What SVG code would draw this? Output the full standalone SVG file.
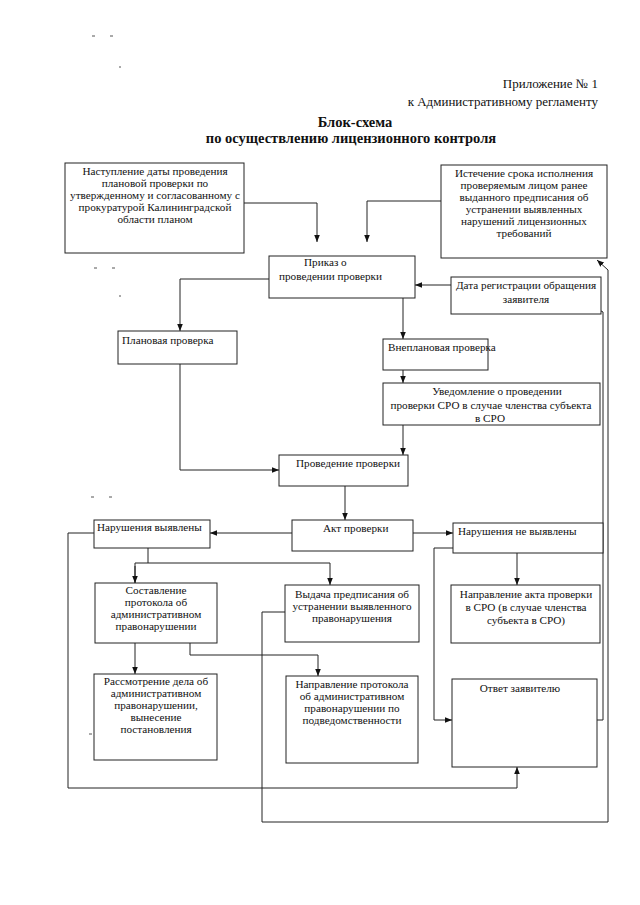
<svg xmlns="http://www.w3.org/2000/svg" width="640" height="905" viewBox="0 0 640 905">
<defs>
<style>
text{font-family:"Liberation Serif","Times New Roman",serif;fill:#111;}
.h{font-size:13px;}
.t{font-size:14.5px;font-weight:bold;}
.n{font-size:11.2px;}
.c{text-anchor:middle;}
.box{fill:#fff;stroke:#222;stroke-width:1;}
.ln{fill:none;stroke:#222;stroke-width:1;}
.mk{stroke:#555;stroke-width:1;}
</style>
<marker id="ah" viewBox="0 0 8 8" refX="8" refY="4" markerWidth="7" markerHeight="7" markerUnits="userSpaceOnUse" orient="auto">
<path d="M0,0.8 L8,4 L0,7.2 z" fill="#111"/>
</marker>
</defs>
<rect width="640" height="905" fill="#fff"/>
<g id="scan-marks">
<line class="mk" x1="92" y1="36" x2="95" y2="36"/><line class="mk" x1="110" y1="36" x2="113" y2="36"/>
<line class="mk" x1="119" y1="67" x2="121" y2="67"/>
<line class="mk" x1="94" y1="268" x2="97" y2="268"/><line class="mk" x1="112" y1="268" x2="115" y2="268"/>
<line class="mk" x1="119" y1="296" x2="121" y2="296"/>
<line class="mk" x1="91" y1="497" x2="94" y2="497"/><line class="mk" x1="109" y1="497" x2="112" y2="497"/>
<line class="mk" x1="89" y1="734" x2="92" y2="734"/><line class="mk" x1="100" y1="734" x2="102" y2="734"/>
</g>
<g id="header">
<text class="h" x="598" y="88" text-anchor="end">Приложение № 1</text>
<text class="h" x="598" y="106" text-anchor="end">к Административному регламенту</text>
<text class="t c" x="355" y="127">Блок-схема</text>
<text class="t c" x="351" y="143">по осуществлению лицензионного контроля</text>
</g>
<g id="connectors">
<polyline class="ln" points="244,203 317,203 317,242" marker-end="url(#ah)"/>
<polyline class="ln" points="441,201 367,201 367,242" marker-end="url(#ah)"/>
<line class="ln" x1="451" y1="285" x2="415" y2="285" marker-end="url(#ah)"/>
<polyline class="ln" points="269,279 180,279 180,331" marker-end="url(#ah)"/>
<line class="ln" x1="403" y1="298" x2="403" y2="339" marker-end="url(#ah)"/>
<line class="ln" x1="403" y1="370" x2="403" y2="383" marker-end="url(#ah)"/>
<line class="ln" x1="403" y1="425" x2="403" y2="455" marker-end="url(#ah)"/>
<polyline class="ln" points="180,364 180,470 279,470" marker-end="url(#ah)"/>
<line class="ln" x1="345" y1="486" x2="345" y2="520" marker-end="url(#ah)"/>
<line class="ln" x1="292" y1="533" x2="210" y2="533" marker-end="url(#ah)"/>
<line class="ln" x1="413" y1="533" x2="453" y2="533" marker-end="url(#ah)"/>
<polyline class="ln" points="148,548 148,563"/>
<polyline class="ln" points="135,583 135,563 330,563 330,585" marker-end="url(#ah)"/>
<line class="ln" x1="135" y1="566" x2="135" y2="583" marker-end="url(#ah)"/>
<line class="ln" x1="135" y1="643" x2="135" y2="674" marker-end="url(#ah)"/>
<polyline class="ln" points="190,643 190,655 318,655 318,676" marker-end="url(#ah)"/>
<polyline class="ln" points="285,612 262,612 262,822 608,822 608,270 597,260" marker-end="url(#ah)"/>
<polyline class="ln" points="94,533 68,533 68,788 517,788 517,767" marker-end="url(#ah)"/>
<line class="ln" x1="517" y1="553" x2="517" y2="585" marker-end="url(#ah)"/>
<polyline class="ln" points="453,548 434,548 434,720 452,720" marker-end="url(#ah)"/>
<polyline class="ln" points="597,720 603,720 603,312 590,305" marker-end="url(#ah)"/>
</g>
<g id="n-nastuplenie">
<rect class="box" x="65" y="163" width="179" height="90"/>
<text class="n c" x="155" y="175">Наступление даты проведения</text>
<text class="n c" x="155" y="187">плановой проверки  по</text>
<text class="n c" x="155" y="199">утвержденному и согласованному с</text>
<text class="n c" x="155" y="211">прокуратурой  Калининградской</text>
<text class="n c" x="155" y="223">области планом</text>
</g>
<g id="n-istechenie">
<rect class="box" x="441" y="165" width="166" height="93"/>
<text class="n c" x="524" y="177">Истечение срока исполнения</text>
<text class="n c" x="524" y="189">проверяемым лицом ранее</text>
<text class="n c" x="524" y="201">выданного предписания  об</text>
<text class="n c" x="524" y="213">устранении выявленных</text>
<text class="n c" x="524" y="225">нарушений лицензионных</text>
<text class="n c" x="524" y="237">требований</text>
</g>
<g id="n-prikaz">
<rect class="box" x="269" y="256" width="146" height="42"/>
<text class="n" x="304" y="266">Приказ о</text>
<text class="n" x="279" y="280">проведении проверки</text>
</g>
<g id="n-data">
<rect class="box" x="451" y="277" width="150" height="37"/>
<text class="n c" x="526" y="289">Дата регистрации обращения</text>
<text class="n c" x="526" y="303">заявителя</text>
</g>
<g id="n-planovaya">
<rect class="box" x="118" y="331" width="119" height="33"/>
<text class="n" x="122" y="344">Плановая проверка</text>
</g>
<g id="n-vneplanovaya">
<rect class="box" x="383" y="339" width="105" height="31"/>
<text class="n" x="388" y="351">Внеплановая проверка</text>
</g>
<g id="n-uvedomlenie">
<rect class="box" x="383" y="383" width="217" height="42"/>
<text class="n c" x="497" y="395">Уведомление о проведении</text>
<text class="n c" x="491" y="409">проверки СРО в случае членства субъекта</text>
<text class="n c" x="490" y="422">в СРО</text>
</g>
<g id="n-provedenie">
<rect class="box" x="279" y="455" width="129" height="31"/>
<text class="n" x="296" y="467">Проведение проверки</text>
</g>
<g id="n-akt">
<rect class="box" x="292" y="520" width="121" height="31"/>
<text class="n" x="323" y="532">Акт проверки</text>
</g>
<g id="n-narusheniya">
<rect class="box" x="94" y="520" width="116" height="28"/>
<text class="n" x="97" y="531">Нарушения выявлены</text>
</g>
<g id="n-net-narusheniy">
<rect class="box" x="453" y="523" width="150" height="30"/>
<text class="n" x="458" y="535">Нарушения не выявлены</text>
</g>
<g id="n-sostavlenie">
<rect class="box" x="95" y="583" width="122" height="60"/>
<text class="n c" x="156" y="594">Составление</text>
<text class="n c" x="156" y="606">протокола об</text>
<text class="n c" x="156" y="618">административном</text>
<text class="n c" x="156" y="630">правонарушении</text>
</g>
<g id="n-vydacha">
<rect class="box" x="285" y="585" width="134" height="57"/>
<text class="n c" x="352" y="598">Выдача предписания об</text>
<text class="n c" x="352" y="610">устранении выявленного</text>
<text class="n c" x="352" y="622">правонарушения</text>
</g>
<g id="n-akt-sro">
<rect class="box" x="451" y="585" width="149" height="58"/>
<text class="n c" x="526" y="598">Направление акта проверки</text>
<text class="n c" x="526" y="611">в СРО (в случае членства</text>
<text class="n c" x="526" y="624">субъекта в СРО)</text>
</g>
<g id="n-rassmotrenie">
<rect class="box" x="94" y="674" width="123" height="86"/>
<text class="n c" x="156" y="685">Рассмотрение дела об</text>
<text class="n c" x="156" y="697">административном</text>
<text class="n c" x="156" y="709">правонарушении,</text>
<text class="n c" x="156" y="721">вынесение</text>
<text class="n c" x="156" y="733">постановления</text>
</g>
<g id="n-napravlenie-protokola">
<rect class="box" x="286" y="676" width="132" height="87"/>
<text class="n c" x="352" y="688">Направление протокола</text>
<text class="n c" x="352" y="700">об административном</text>
<text class="n c" x="352" y="712">правонарушении по</text>
<text class="n c" x="352" y="724">подведомственности</text>
</g>
<g id="n-otvet">
<rect class="box" x="452" y="679" width="145" height="88"/>
<text class="n c" x="520" y="692">Ответ заявителю</text>
</g>
</svg>
